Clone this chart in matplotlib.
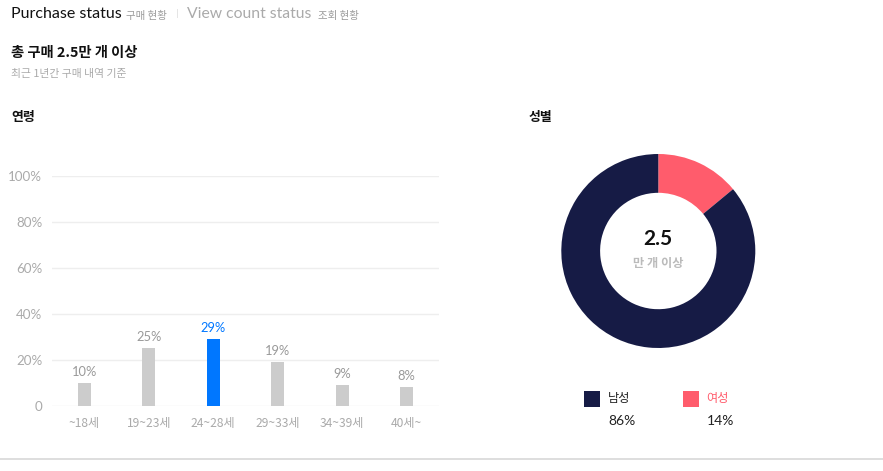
import matplotlib
matplotlib.use("Agg")
import matplotlib.pyplot as plt
from matplotlib.patches import Rectangle
from matplotlib.lines import Line2D

FAM = ['Lato', 'Noto Sans CJK KR', 'DejaVu Sans']
KFAM = ['Noto Sans CJK KR', 'DejaVu Sans']
plt.rcParams['font.family'] = FAM

# ---- data ----
age_groups = ['~18세', '19~23세', '24~28세', '29~33세', '34~39세', '40세~']
age_values = [10, 25, 29, 19, 9, 8]
highlight_index = 2
y_ticks = [0, 20, 40, 60, 80, 100]
y_tick_labels = ['0', '20%', '40%', '60%', '80%', '100%']

gender_labels = ['여성', '남성']
gender_values = [14, 86]
gender_colors = ['#ff5c6c', '#161b45']

W, H = 883, 471
fig = plt.figure(figsize=(W / 100, H / 100), dpi=100)
fig.patch.set_facecolor('white')

def fx(px):
    return px / W

def fy(py):
    return 1 - py / H

# ---- header ----
fig.text(fx(11), fy(18.5), 'Purchase status', fontsize=11.5, color='#111111', va='baseline', family=FAM)
fig.text(fx(126), fy(18.5), '구매 현황', fontsize=7.5, color='#999999', va='baseline', family=KFAM)
fig.text(fx(176), fy(14), '|', fontsize=7.5, color='#dddddd', va='center', family=FAM)
fig.text(fx(187), fy(18.5), 'View count status', fontsize=11.3, color='#aaaaaa', va='baseline', family=FAM)
fig.text(fx(318), fy(18.5), '조회 현황', fontsize=7.5, color='#999999', va='baseline', family=KFAM)

fig.text(fx(11), fy(53), '총 구매 2.5만 개 이상', fontsize=10.3, fontweight='bold', color='#111111', va='center', family=KFAM)
fig.text(fx(11), fy(74), '최근 1년간 구매 내역 기준', fontsize=7.8, color='#aaaaaa', va='center', family=KFAM)

fig.text(fx(11), fy(117), '연령', fontsize=9.3, fontweight='bold', color='#111111', va='center', family=KFAM)
fig.text(fx(529), fy(117), '성별', fontsize=9.3, fontweight='bold', color='#111111', va='center', family=KFAM)

# bottom separator line
fig.add_artist(Line2D([0, 1], [fy(459.3), fy(459.3)], transform=fig.transFigure, color='#d8d8d8', lw=1.2))

# ---- bar chart ----
ax_left, ax_right = 52, 439
ax_top, ax_bottom = 176.3, 405.7
ax = fig.add_axes([fx(ax_left), fy(ax_bottom), fx(ax_right - ax_left), (ax_bottom - ax_top) / H])
x = list(range(len(age_groups)))
colors = ['#0077ff' if i == highlight_index else '#cccccc' for i in x]
ax.bar(x, age_values, width=0.2, color=colors, zorder=3)
ax.set_xlim(-0.5, len(age_groups) - 0.5)
ax.set_ylim(0, 100)
ax.set_yticks(y_ticks)
ax.set_yticklabels(y_tick_labels)
for yv in y_ticks:
    ax.axhline(yv, color='#eeeeee', lw=1, zorder=1)
ax.set_xticks(x)
ax.set_xticklabels(age_groups, family=KFAM)
ax.tick_params(axis='both', length=0, labelcolor='#aaaaaa')
ax.tick_params(axis='y', pad=7, labelsize=9.6)
ax.tick_params(axis='x', pad=8, labelsize=8.7)
for lab in ax.get_yticklabels():
    lab.set_fontfamily(FAM)
for s in ax.spines.values():
    s.set_visible(False)
for i, v in enumerate(age_values):
    c = '#0077ff' if i == highlight_index else '#999999'
    ax.annotate(f'{v}%', (i, v), xytext=(0, 3.5), textcoords='offset points',
                ha='center', va='bottom', fontsize=9.3, color=c, family=FAM)

# ---- donut ----
cx, cy, r = 658.3, 251, 97
half = 1.2 * r
pax = fig.add_axes([fx(cx - half), fy(cy + half), 2 * half / W, 2 * half / H])
pax.pie(gender_values, colors=gender_colors, startangle=90, counterclock=False,
        radius=1, wedgeprops=dict(width=0.4, edgecolor='none'))
pax.set_xlim(-1.2, 1.2)
pax.set_ylim(-1.2, 1.2)
pax.set_aspect('equal')
pax.axis('off')
pax.text(0, 0.12, '2.5', ha='center', va='center', fontsize=15, fontweight='bold', color='#111111', family=FAM)
pax.text(0, -0.13, '만 개 이상', ha='center', va='center', fontsize=8.8, fontweight='bold', color='#bbbbbb', family=KFAM)

# ---- legend ----
legend_items = [('남성', 86, '#161b45', '#222222', 584), ('여성', 14, '#ff5c6c', '#ff5c6c', 682.7)]
for name, val, col, tcol, lx in legend_items:
    fig.add_artist(Rectangle((fx(lx), fy(406.7)), 16 / W, 16 / H, transform=fig.transFigure,
                             facecolor=col, edgecolor='none'))
    fig.text(fx(lx + 24), fy(398.7), name, fontsize=8.8, color=tcol, va='center', family=KFAM)
    fig.text(fx(lx + 24), fy(421), f'{val}%', fontsize=10, color='#222222', va='center', family=FAM)

fig.savefig('out.png', dpi=100, facecolor='white')
